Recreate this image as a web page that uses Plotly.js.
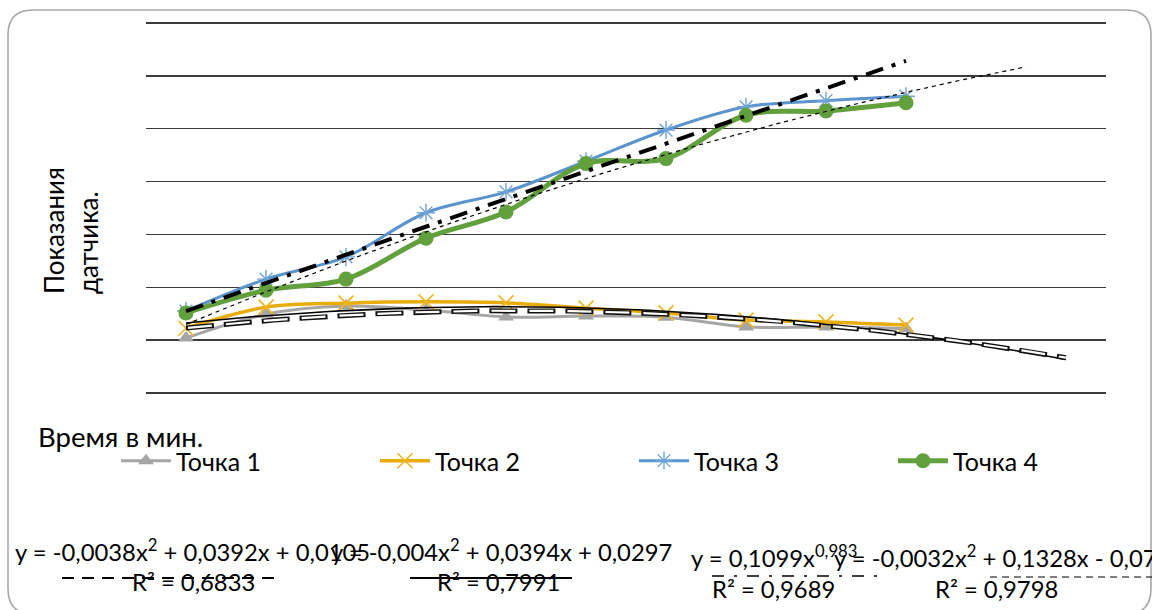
<!DOCTYPE html>
<html>
<head>
<meta charset="utf-8">
<script src="https://cdn.plot.ly/plotly-3.0.1.min.js"></script>
<style>
  html, body { margin: 0; padding: 0; background: #ffffff; }
  #chart { width: 1152px; height: 610px; }
</style>
</head>
<body>
<div id="chart"></div>
<script>
// ---- data ----
const minutes = [1, 2, 3, 4, 5, 6, 7, 8, 9, 10];
const seriesNames = ["Точка 1", "Точка 2", "Точка 3", "Точка 4"];
const point1 = [0.008, 0.098, 0.129, 0.114, 0.088, 0.091, 0.087, 0.050, 0.050, 0.044];
const point2 = [0.045, 0.125, 0.140, 0.145, 0.141, 0.121, 0.103, 0.076, 0.069, 0.057];
const point3 = [0.110, 0.231, 0.315, 0.482, 0.561, 0.677, 0.795, 0.883, 0.906, 0.923];
const point4 = [0.103, 0.189, 0.231, 0.386, 0.485, 0.668, 0.687, 0.851, 0.867, 0.898];
const yTicks = [-0.2, 0, 0.2, 0.4, 0.6, 0.8, 1.0, 1.2];

// trendline coefficients as printed on the chart
const trend1Poly = [-0.0038, 0.0392, 0.0105];   // a x^2 + b x + c
const trend2Poly = [-0.004, 0.0394, 0.0297];
const trend3Pow = [0.1099, 0.983];               // a x^b
const trend4Poly = [-0.0032, 0.1328, -0.07];
const trendEnds = [[1, 12], [1, 12], [1, 10], [1, 11.5]];

const eqTexts = [
  "y = -0,0038x<sup>2</sup> + 0,0392x + 0,0105",
  "y = -0,004x<sup>2</sup> + 0,0394x + 0,0297",
  "y = 0,1099x<sup>0,983</sup>",
  "y = -0,0032x<sup>2</sup> + 0,1328x - 0,07"
];
const r2Texts = ["R² = 0,6833", "R² = 0,7991", "R² = 0,9689", "R² = 0,9798"];

// ---- helpers ----
function sampleX(a, b) {
  const xs = [];
  const n = 80;
  for (let i = 0; i <= n; i++) xs.push(a + (b - a) * i / n);
  return xs;
}
function polyTrend(c, range) {
  const xs = sampleX(range[0], range[1]);
  return { x: xs, y: xs.map(v => c[0] * v * v + c[1] * v + c[2]) };
}
function powTrend(c, range) {
  const xs = sampleX(range[0], range[1]);
  return { x: xs, y: xs.map(v => c[0] * Math.pow(v, c[1])) };
}

// plot area: gridline -0.2 at y=393px, 1.2 at y=23px; pad 3px each side so edge grids show
const PL = 146, PR = 1106, PT = 20, PB = 396;
const YPAD = 3 * 1.4 / 370;
const px = v => (v - PL) / (PR - PL);
const py = v => (PB - v) / (PB - PT);

const FONT = "Lato, 'Open Sans', sans-serif";
const EQ_SIZE = 23.8, LEG_SIZE = 25, TITLE_SIZE = 26;

const t1 = polyTrend(trend1Poly, trendEnds[0]);
const t2 = polyTrend(trend2Poly, trendEnds[1]);
const t3 = powTrend(trend3Pow, trendEnds[2]);
const t4 = polyTrend(trend4Poly, trendEnds[3]);

const traces = [
  { x: minutes, y: point1, name: seriesNames[0], type: "scatter", mode: "lines+markers",
    line: { color: "#a5a5a5", width: 3, shape: "spline", smoothing: 1 },
    marker: { symbol: "triangle-up", size: 14, color: "#a5a5a5" } },
  { x: minutes, y: point2, name: seriesNames[1], type: "scatter", mode: "lines+markers",
    line: { color: "#e8ad0c", width: 3.5, shape: "spline", smoothing: 1 },
    marker: { symbol: "x-thin-open", size: 15, color: "#f0b51c", line: { width: 1.6, color: "#f0b51c" } } },
  { x: minutes, y: point3, name: seriesNames[2], type: "scatter", mode: "lines+markers",
    line: { color: "#5b93cc", width: 3, shape: "spline", smoothing: 1 },
    marker: { symbol: "asterisk-open", size: 15, color: "#6fa3d6", line: { width: 1.4, color: "#6fa3d6" } } },
  { x: minutes, y: point4, name: seriesNames[3], type: "scatter", mode: "lines+markers",
    line: { color: "#62a03e", width: 5, shape: "spline", smoothing: 1 },
    marker: { symbol: "circle", size: 15, color: "#62a03e" } },
  // trendlines
  { x: t2.x, y: t2.y, type: "scatter", mode: "lines", showlegend: false, hoverinfo: "skip",
    line: { color: "#000000", width: 1.6 } },
  { x: t1.x, y: t1.y, type: "scatter", mode: "lines", showlegend: false, hoverinfo: "skip",
    line: { color: "#111111", width: 5, dash: "28px,10px" } },
  { x: t1.x, y: t1.y, type: "scatter", mode: "lines", showlegend: false, hoverinfo: "skip",
    line: { color: "#ffffff", width: 2.2, dash: "0px,2px,24px,12px" } },
  { x: t3.x, y: t3.y, type: "scatter", mode: "lines", showlegend: false, hoverinfo: "skip",
    line: { color: "#000000", width: 4, dash: "18px,9px,4px,9px" } },
  { x: t4.x, y: t4.y, type: "scatter", mode: "lines", showlegend: false, hoverinfo: "skip",
    line: { color: "#000000", width: 1.2, dash: "4px,4px" } }
];

const eqPos = [[13, 550], [329, 550], [689, 556], [832, 556]];
const r2Pos = [[130, 582], [435, 582], [710, 589], [933, 589]];

const annotations = [];
eqTexts.forEach((t, i) => annotations.push({
  xref: "paper", yref: "paper", x: px(eqPos[i][0]), y: py(eqPos[i][1]),
  xanchor: "left", yanchor: "middle", showarrow: false, text: t,
  font: { family: FONT, size: EQ_SIZE, color: "#000" }
}));
r2Texts.forEach((t, i) => annotations.push({
  xref: "paper", yref: "paper", x: px(r2Pos[i][0]), y: py(r2Pos[i][1]),
  xanchor: "left", yanchor: "middle", showarrow: false, text: t,
  font: { family: FONT, size: EQ_SIZE, color: "#000" }
}));
annotations.push({
  xref: "paper", yref: "paper", x: px(36), y: py(436),
  xanchor: "left", yanchor: "middle", showarrow: false, text: "Время в мин.",
  font: { family: FONT, size: 27.5, color: "#000" }
});
annotations.push({
  xref: "paper", yref: "paper", x: px(71), y: py(231),
  xanchor: "center", yanchor: "middle", showarrow: false, textangle: -90, align: "left",
  text: "Показания<br>датчика.",
  font: { family: FONT, size: TITLE_SIZE, color: "#000" }
});

// legend-sample lines for trendlines beneath R² labels and the rounded frame
const shapes = [
  { type: "line", xref: "paper", yref: "paper", x0: px(62), x1: px(278), y0: py(578), y1: py(578),
    line: { color: "#000", width: 2, dash: "12px,8px" } },
  { type: "line", xref: "paper", yref: "paper", x0: px(410), x1: px(572), y0: py(578), y1: py(578),
    line: { color: "#000", width: 2 } },
  { type: "line", xref: "paper", yref: "paper", x0: px(712), x1: px(880), y0: py(576), y1: py(576),
    line: { color: "#000", width: 1.4, dash: "12px,10px,3px,10px" } },
  { type: "line", xref: "paper", yref: "paper", x0: px(990), x1: px(1152), y0: py(577), y1: py(577),
    line: { color: "#000", width: 1.2, dash: "7px,5px" } },
];
const fx0 = 8, fy0 = 10, fx1 = 1151, fy1 = 614, rad = 25;
shapes.push({
  type: "path", xref: "paper", yref: "paper", layer: "below",
  path: `M ${px(fx0)},${py(fy1 - rad)} L ${px(fx0)},${py(fy0 + rad)} Q ${px(fx0)},${py(fy0)} ${px(fx0 + rad)},${py(fy0)} ` +
        `L ${px(fx1 - rad)},${py(fy0)} Q ${px(fx1)},${py(fy0)} ${px(fx1)},${py(fy0 + rad)} ` +
        `L ${px(fx1)},${py(fy1 - rad)} Q ${px(fx1)},${py(fy1)} ${px(fx1 - rad)},${py(fy1)} ` +
        `L ${px(fx0 + rad)},${py(fy1)} Q ${px(fx0)},${py(fy1)} ${px(fx0)},${py(fy1 - rad)} Z`,
  line: { color: "#a8a8a8", width: 1.6 }
});

const layout = {
  width: 1152, height: 610,
  margin: { l: PL, r: 1152 - PR, t: PT, b: 610 - PB, pad: 0 },
  paper_bgcolor: "#ffffff", plot_bgcolor: "rgba(0,0,0,0)",
  font: { family: FONT, size: 20, color: "#000" },
  xaxis: { range: [0.5, 12.5], showgrid: false, zeroline: false, showline: false,
           showticklabels: false, ticks: "" },
  yaxis: { range: [-0.2 - YPAD, 1.2 + YPAD], tickmode: "array", tickvals: yTicks, showticklabels: false,
           showgrid: true, gridcolor: "#3c3c3c", gridwidth: 1.3, zeroline: false, showline: false, ticks: "" },
  showlegend: true,
  legend: { orientation: "h", x: px(122), y: py(438), xanchor: "left", yanchor: "top",
            entrywidth: 194, entrywidthmode: "pixels", itemwidth: 50,
            font: { family: FONT, size: LEG_SIZE, color: "#000" }, bgcolor: "rgba(0,0,0,0)" },
  annotations: annotations,
  shapes: shapes
};

Plotly.newPlot("chart", traces, layout, { displayModeBar: false, staticPlot: true });
</script>
</body>
</html>
